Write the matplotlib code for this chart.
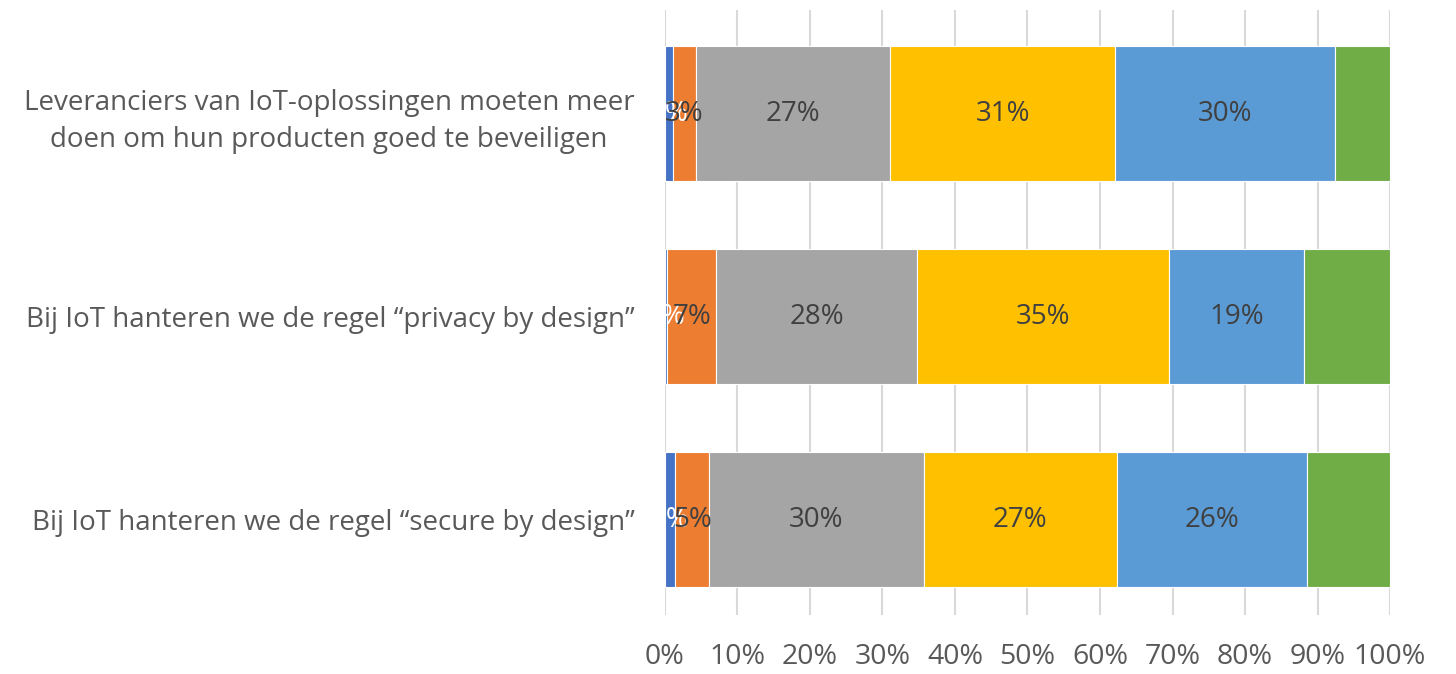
import matplotlib.pyplot as plt
import numpy as np
from matplotlib.ticker import PercentFormatter

# Statements (top to bottom) and answer shares in percent
statements = [
    'Leveranciers van IoT-oplossingen moeten meer\ndoen om hun producten goed te beveiligen',
    'Bij IoT hanteren we de regel \u201cprivacy by design\u201d',
    'Bij IoT hanteren we de regel \u201csecure by design\u201d',
]
cat1 = [1.1, 0.3, 1.4]
cat2 = [3.2, 6.8, 4.7]
cat3 = [26.8, 27.6, 29.6]
cat4 = [31.0, 34.8, 26.6]
cat5 = [30.3, 18.6, 26.3]
cat6 = [7.6, 11.9, 11.4]

series = [cat1, cat2, cat3, cat4, cat5, cat6]
colors = ['#4472C4', '#ED7D31', '#A5A5A5', '#FFC000', '#5B9BD5', '#70AD47']
label_colors = ['white', '#404040', '#404040', '#404040', '#404040', None]

plt.rcParams['font.family'] = ['Open Sans', 'DejaVu Sans']

fig = plt.figure(figsize=(14.56, 6.74), dpi=100)
ax = fig.add_axes([0.4567, 0.0875, 0.4980, 0.8975])

y = np.arange(len(statements))
left = np.zeros(len(statements))
for vals, col, lcol in zip(series, colors, label_colors):
    vals = np.array(vals)
    bars = ax.barh(y, vals, left=left, height=0.665, color=col,
                   edgecolor='white', linewidth=0.8, zorder=2)
    if lcol is not None:
        ax.bar_label(bars, labels=['%d%%' % round(v) for v in vals],
                     label_type='center', color=lcol, fontsize=20)
    left += vals

ax.set_xlim(0, 100)
ax.set_ylim(2.47, -0.51)
ax.set_yticks(y)
ax.set_yticklabels(statements, fontsize=20, color='#595959',
                   multialignment='center', linespacing=1.4)
ax.set_xticks(np.arange(0, 101, 10))
ax.xaxis.set_major_formatter(PercentFormatter(decimals=0))
ax.tick_params(axis='x', labelsize=20.5, labelcolor='#595959', length=0, pad=20)
ax.tick_params(axis='y', length=0, pad=22)
ax.grid(axis='x', color='#D9D9D9', linewidth=1.5, zorder=0)
ax.set_axisbelow(True)
for s in ax.spines.values():
    s.set_visible(False)

fig.savefig('out.png', dpi=100)
